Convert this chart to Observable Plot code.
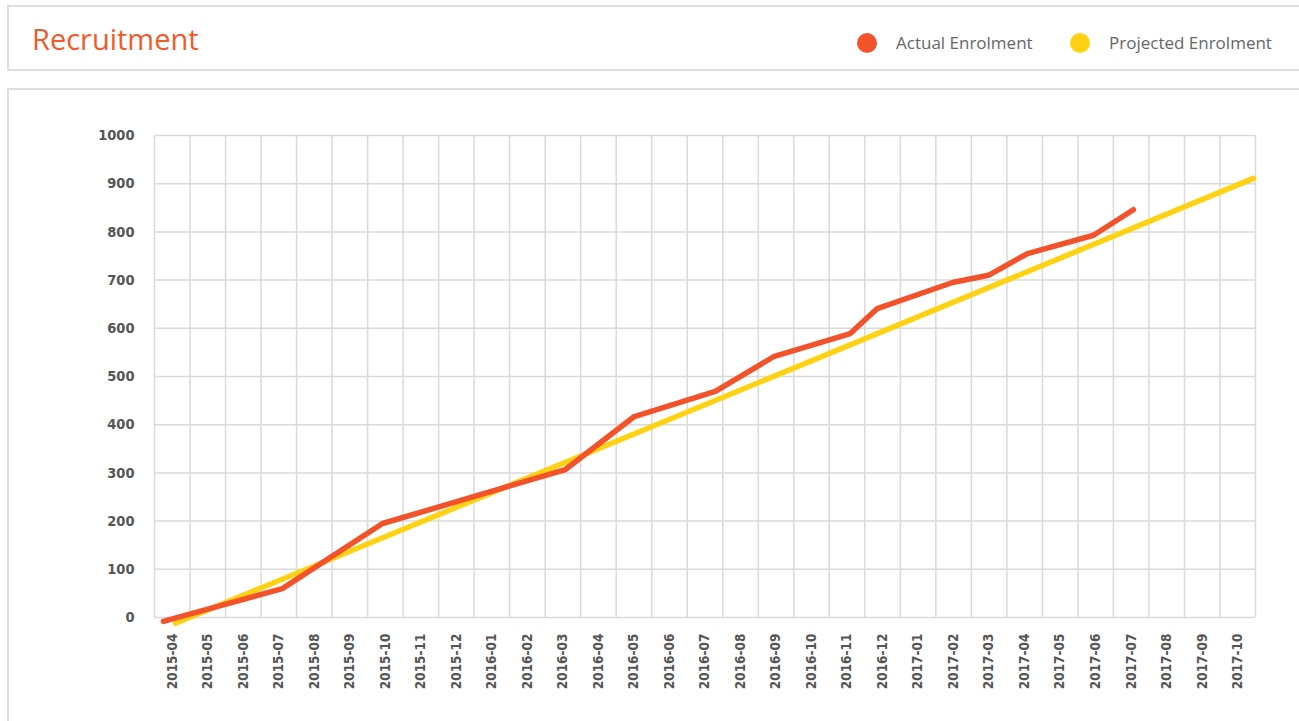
<!DOCTYPE html>
<html>
<head>
<meta charset="utf-8">
<script src="https://cdn.jsdelivr.net/npm/d3@7"></script>
<script src="https://cdn.jsdelivr.net/npm/@observablehq/plot@0.6"></script>
<style>
  html, body { margin: 0; padding: 0; background: #fff; overflow: hidden; }
  body { width: 1299px; height: 721px; position: relative; font-family: "Open Sans", sans-serif; }
  .box { position: absolute; border: 2px solid #dedede; background: #fff; box-sizing: border-box; }
  #header { left: 7px; top: 5px; width: 1320px; height: 66px; }
  #panel { left: 7px; top: 88px; width: 1320px; height: 700px; }
  #title { position: absolute; left: 32px; top: 24px; font-size: 29px; color: #f25a2a; line-height: 1; font-family: "Open Sans", sans-serif; }
  .leg { position: absolute; top: 32px; display: flex; align-items: center; font-size: 17px; color: #666; line-height: 22px; }
  .dot { width: 20px; height: 20px; border-radius: 50%; margin-right: 19px; }
  #chart { position: absolute; left: 0; top: 90px; }
  #chart svg text { font-family: "DejaVu Sans Condensed", "DejaVu Sans", sans-serif; font-stretch: condensed; font-weight: bold; }
</style>
</head>
<body>
<div class="box" id="header"></div>
<div class="box" id="panel"></div>
<div id="title">Recruitment</div>
<div id="legend"></div>
<div id="chart"></div>
<script>
// Month tick labels (one band per month)
const monthLabels = [
  "2015-04","2015-05","2015-06","2015-07","2015-08","2015-09","2015-10","2015-11","2015-12",
  "2016-01","2016-02","2016-03","2016-04","2016-05","2016-06","2016-07","2016-08","2016-09",
  "2016-10","2016-11","2016-12",
  "2017-01","2017-02","2017-03","2017-04","2017-05","2017-06","2017-07","2017-08","2017-09","2017-10"
];
const yTicks = [0, 100, 200, 300, 400, 500, 600, 700, 800, 900, 1000];

// Actual enrolment: position in months since start of 2015-04, cumulative count
const actualMonth = [0.25, 3.6, 6.42, 11.57, 13.51, 15.79, 17.43, 19.59, 20.35, 22.47, 23.48, 24.58, 26.44, 27.56];
const actualValue = [-8, 60, 195, 307, 417, 469, 541, 589, 641, 695, 710, 755, 793, 846];

// Projected enrolment
const projectedMonth = [0.59, 30.94];
const projectedValue = [-12, 911];

const seriesNames = ["Actual Enrolment", "Projected Enrolment"];
const seriesColors = ["#f2532a", "#ffd214"];

const actual = actualMonth.map((m, i) => ({m, v: actualValue[i]}));
const projected = projectedMonth.map((m, i) => ({m, v: projectedValue[i]}));
const bandEdges = d3.range(monthLabels.length + 1);
const bandCenters = d3.range(monthLabels.length).map(i => i + 0.5);

// Legend
const legend = document.getElementById("legend");
const legendX = [857, 1070];
seriesNames.forEach((name, i) => {
  const el = document.createElement("div");
  el.className = "leg";
  el.style.left = legendX[i] + "px";
  el.innerHTML = `<span class="dot" style="background:${seriesColors[i]}"></span><span>${name}</span>`;
  legend.appendChild(el);
});

const plot = Plot.plot({
  width: 1299,
  height: 631,
  marginLeft: 154,
  marginRight: 44,
  marginTop: 45,
  marginBottom: 104,
  x: {type: "linear", domain: [0, monthLabels.length]},
  y: {type: "linear", domain: [0, 1000]},
  marks: [
    Plot.ruleY(yTicks, {stroke: "#dadada", strokeWidth: 1.5}),
    Plot.ruleX(bandEdges, {y1: 0, y2: 1000, stroke: "#dadada", strokeWidth: 1.5}),
    Plot.axisY({ticks: yTicks, tickFormat: d3.format("d"), tickSize: 0, tickPadding: 20, fill: "#555", label: null, fontSize: 14.5}),
    Plot.axisX({ticks: bandCenters, tickFormat: d => monthLabels[Math.floor(d)], tickSize: 0, tickPadding: 16, tickRotate: -90, fill: "#555", label: null, fontSize: 13.5}),
    Plot.line(projected, {x: "m", y: "v", stroke: seriesColors[1], strokeWidth: 5.5, strokeLinecap: "round", strokeLinejoin: "round"}),
    Plot.line(actual, {x: "m", y: "v", stroke: seriesColors[0], strokeWidth: 5.5, strokeLinecap: "round", strokeLinejoin: "round"})
  ]
});
document.getElementById("chart").appendChild(plot);
</script>
</body>
</html>
